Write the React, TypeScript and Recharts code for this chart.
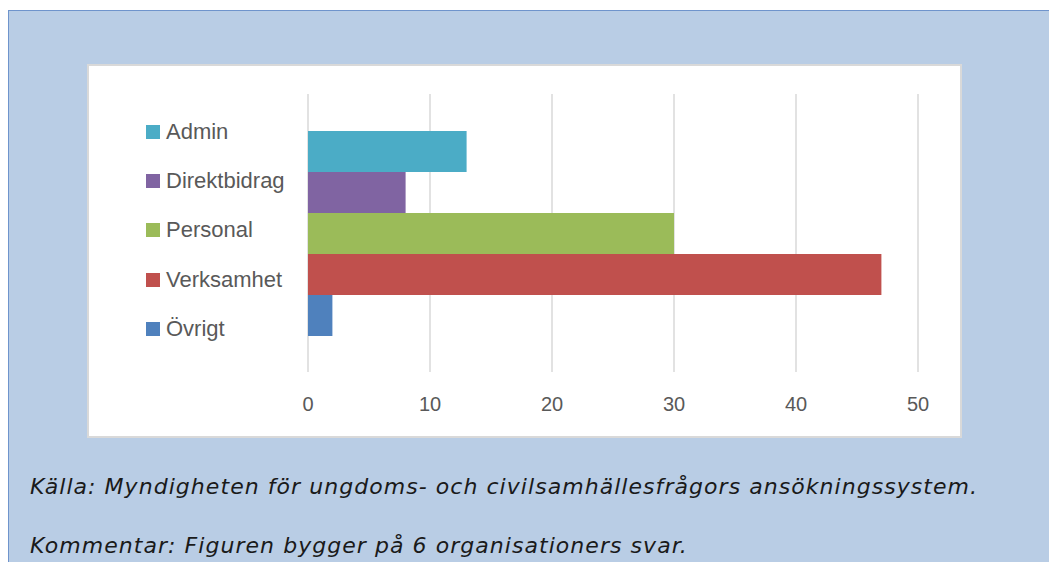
import { BarChart, Bar, XAxis, YAxis, CartesianGrid, Legend } from "recharts";

// Antal organisationer per kostnadstyp
const seriesNames = ["Admin", "Direktbidrag", "Personal", "Verksamhet", "Övrigt"];
const seriesValues = [13, 8, 30, 47, 2];
const seriesColors = ["#4BACC6", "#8064A2", "#9BBB59", "#C0504D", "#4F81BD"];
const xTicks = [0, 10, 20, 30, 40, 50];

const captionSource = "Källa: Myndigheten för ungdoms- och civilsamhällesfrågors ansökningssystem.";
const captionComment = "Kommentar: Figuren bygger på 6 organisationers svar.";

// one row, every cost type is its own series (like the Excel original)
const row: Record<string, number | string> = { name: "" };
seriesNames.forEach((n, i) => {
  row[n] = seriesValues[i];
});
const data = [row];

const LABEL_FONT = "'Liberation Sans', Arial, sans-serif";

const SideLegend = () => (
  <div>
    {seriesNames.map((n, i) => (
      <div
        key={n}
        style={{ display: "flex", alignItems: "center", height: 49.4 }}
      >
        <span
          style={{
            width: 14,
            height: 14,
            background: seriesColors[i],
            marginRight: 6,
            flex: "none",
          }}
        />
        <span
          style={{
            fontFamily: LABEL_FONT,
            fontSize: 22,
            color: "#595959",
            whiteSpace: "nowrap",
          }}
        >
          {n}
        </span>
      </div>
    ))}
  </div>
);

const captionStyle = {
  position: "absolute" as const,
  left: 30,
  fontFamily: "'DejaVu Sans', Verdana, sans-serif",
  fontStyle: "italic" as const,
  fontSize: 22,
  letterSpacing: "1.05px",
  lineHeight: "24px",
  color: "#1a1a1a",
  whiteSpace: "nowrap" as const,
};

export default function App() {
  return (
    <div
      style={{
        position: "absolute",
        left: 0,
        top: 0,
        width: 1049,
        height: 562,
        background: "#ffffff",
        overflow: "hidden",
      }}
    >
      {/* blue frame */}
      <div
        style={{
          position: "absolute",
          left: 8,
          top: 10,
          width: 1049 - 8,
          height: 562 - 10,
          background: "#B9CDE5",
          borderTop: "1px solid #6F94CC",
          borderLeft: "1px solid #6F94CC",
          boxSizing: "border-box",
        }}
      />
      {/* white chart area */}
      <div
        style={{
          position: "absolute",
          left: 87,
          top: 64,
          width: 875,
          height: 374,
          background: "#ffffff",
          border: "2px solid #D9D9D9",
          boxSizing: "border-box",
        }}
      />
      <div style={{ position: "absolute", left: 87, top: 64 }}>
        <BarChart
          width={873}
          height={372}
          data={data}
          layout="vertical"
          margin={{ top: 30, right: 42, bottom: 0, left: 221 }}
          barCategoryGap={37}
          barGap={0}
        >
          <CartesianGrid
            horizontal={false}
            stroke="#D9D9D9"
            strokeWidth={1.5}
          />
          <XAxis
            type="number"
            domain={[0, 50]}
            ticks={xTicks}
            height={64}
            axisLine={false}
            tickLine={false}
            tickMargin={19}
            tick={{ fill: "#595959", fontSize: 20, fontFamily: LABEL_FONT }}
          />
          <YAxis type="category" dataKey="name" hide />
          <Legend
            layout="vertical"
            align="center"
            verticalAlign="middle"
            content={() => <SideLegend />}
            wrapperStyle={{ left: 59, top: 43, width: 180 }}
          />
          {seriesNames.map((n, i) => (
            <Bar
              key={n}
              dataKey={n}
              fill={seriesColors[i]}
              isAnimationActive={false}
            />
          ))}
        </BarChart>
      </div>
      {/* captions */}
      <div style={{ ...captionStyle, top: 475 }}>{captionSource}</div>
      <div style={{ ...captionStyle, top: 534 }}>{captionComment}</div>
    </div>
  );
}
